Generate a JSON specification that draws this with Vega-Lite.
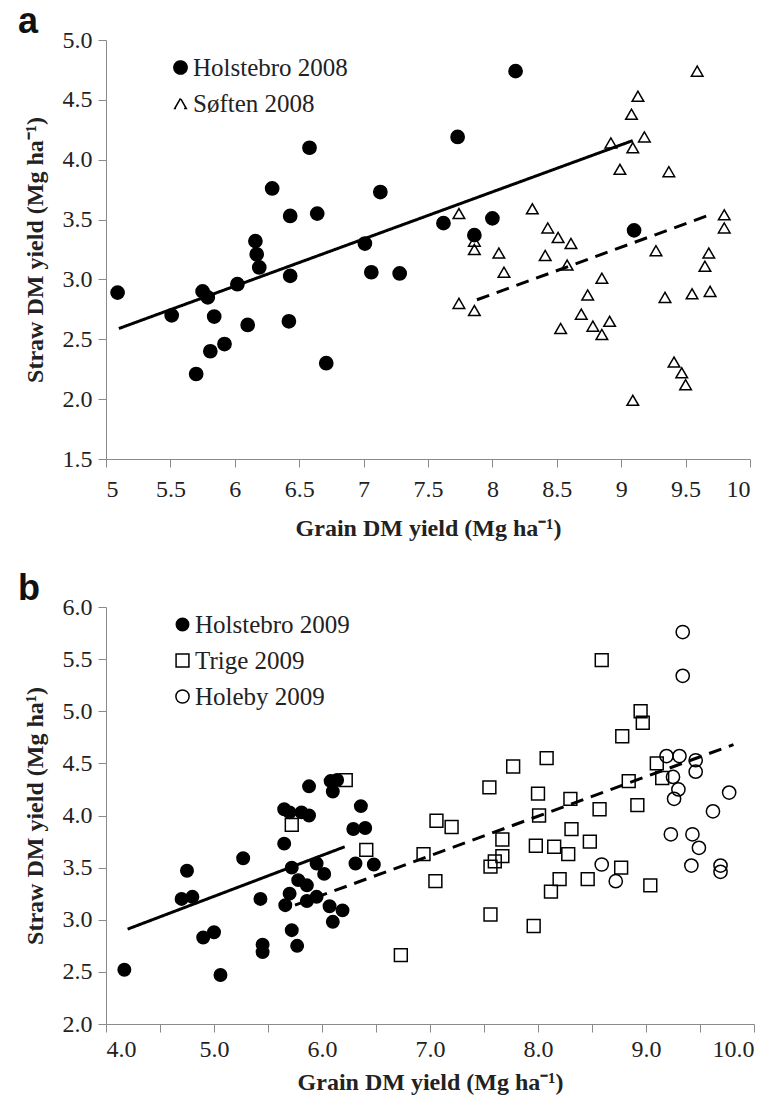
{
  "$schema": "https://vega.github.io/schema/vega-lite/v6.json",
  "background": "white",
  "padding": {"left": 18, "top": 4, "right": 20, "bottom": 2},
  "resolve": {
    "scale": {"shape": "independent", "fill": "independent", "stroke": "independent", "size": "independent", "strokeDash": "independent"},
    "legend": {"shape": "independent", "fill": "independent", "stroke": "independent", "size": "independent", "strokeDash": "independent"}
  },
  "config": {
    "view": {"stroke": null},
    "font": "Liberation Serif, Times New Roman, serif",
    "concat": {"spacing": 31},
    "axis": {
      "grid": false,
      "domainColor": "#8a8a8a",
      "tickColor": "#8a8a8a",
      "tickSize": 8,
      "labelFont": "Liberation Serif, Times New Roman, serif",
      "labelFontSize": 24,
      "labelColor": "#222222",
      "titleFont": "Liberation Serif, Times New Roman, serif",
      "titleFontWeight": "bold",
      "titleFontSize": 24,
      "titleColor": "#222222"
    },
    "axisX": {"labelPadding": 10, "titlePadding": 15},
    "axisY": {"labelPadding": 6, "titlePadding": 15},
    "legend": {
      "orient": "none",
      "padding": 0,
      "labelFont": "Liberation Serif, Times New Roman, serif",
      "labelFontSize": 25,
      "labelColor": "#222222",
      "labelOffset": 0,
      "rowPadding": 10,
      "symbolStrokeWidth": 1.5
    }
  },
  "datasets": {
    "a_points": [
      {"site": "Holstebro 2008", "grain": 5.09, "straw": 2.89},
      {"site": "Holstebro 2008", "grain": 5.51, "straw": 2.70},
      {"site": "Holstebro 2008", "grain": 5.75, "straw": 2.90},
      {"site": "Holstebro 2008", "grain": 5.79, "straw": 2.85},
      {"site": "Holstebro 2008", "grain": 5.84, "straw": 2.69},
      {"site": "Holstebro 2008", "grain": 5.81, "straw": 2.40},
      {"site": "Holstebro 2008", "grain": 5.92, "straw": 2.46},
      {"site": "Holstebro 2008", "grain": 5.70, "straw": 2.21},
      {"site": "Holstebro 2008", "grain": 6.02, "straw": 2.96},
      {"site": "Holstebro 2008", "grain": 6.10, "straw": 2.62},
      {"site": "Holstebro 2008", "grain": 6.16, "straw": 3.32},
      {"site": "Holstebro 2008", "grain": 6.17, "straw": 3.21},
      {"site": "Holstebro 2008", "grain": 6.19, "straw": 3.10},
      {"site": "Holstebro 2008", "grain": 6.29, "straw": 3.76},
      {"site": "Holstebro 2008", "grain": 6.43, "straw": 3.53},
      {"site": "Holstebro 2008", "grain": 6.43, "straw": 3.03},
      {"site": "Holstebro 2008", "grain": 6.42, "straw": 2.65},
      {"site": "Holstebro 2008", "grain": 6.58, "straw": 4.10},
      {"site": "Holstebro 2008", "grain": 6.64, "straw": 3.55},
      {"site": "Holstebro 2008", "grain": 6.71, "straw": 2.30},
      {"site": "Holstebro 2008", "grain": 7.01, "straw": 3.30},
      {"site": "Holstebro 2008", "grain": 7.06, "straw": 3.06},
      {"site": "Holstebro 2008", "grain": 7.13, "straw": 3.73},
      {"site": "Holstebro 2008", "grain": 7.28, "straw": 3.05},
      {"site": "Holstebro 2008", "grain": 7.62, "straw": 3.47},
      {"site": "Holstebro 2008", "grain": 8.18, "straw": 4.74},
      {"site": "Holstebro 2008", "grain": 7.73, "straw": 4.19},
      {"site": "Holstebro 2008", "grain": 8.00, "straw": 3.51},
      {"site": "Holstebro 2008", "grain": 7.86, "straw": 3.37},
      {"site": "Holstebro 2008", "grain": 9.10, "straw": 3.41},
      {"site": "Søften 2008", "grain": 9.59, "straw": 4.74},
      {"site": "Søften 2008", "grain": 9.13, "straw": 4.53},
      {"site": "Søften 2008", "grain": 9.08, "straw": 4.38},
      {"site": "Søften 2008", "grain": 9.18, "straw": 4.19},
      {"site": "Søften 2008", "grain": 8.92, "straw": 4.14},
      {"site": "Søften 2008", "grain": 9.09, "straw": 4.10},
      {"site": "Søften 2008", "grain": 8.99, "straw": 3.92},
      {"site": "Søften 2008", "grain": 9.37, "straw": 3.90},
      {"site": "Søften 2008", "grain": 7.74, "straw": 3.55},
      {"site": "Søften 2008", "grain": 8.31, "straw": 3.59},
      {"site": "Søften 2008", "grain": 8.43, "straw": 3.43},
      {"site": "Søften 2008", "grain": 8.51, "straw": 3.35},
      {"site": "Søften 2008", "grain": 8.61, "straw": 3.30},
      {"site": "Søften 2008", "grain": 9.80, "straw": 3.54},
      {"site": "Søften 2008", "grain": 9.80, "straw": 3.43},
      {"site": "Søften 2008", "grain": 7.86, "straw": 3.32},
      {"site": "Søften 2008", "grain": 7.86, "straw": 3.25},
      {"site": "Søften 2008", "grain": 8.05, "straw": 3.22},
      {"site": "Søften 2008", "grain": 8.41, "straw": 3.20},
      {"site": "Søften 2008", "grain": 9.27, "straw": 3.24},
      {"site": "Søften 2008", "grain": 9.68, "straw": 3.22},
      {"site": "Søften 2008", "grain": 9.65, "straw": 3.11},
      {"site": "Søften 2008", "grain": 8.09, "straw": 3.06},
      {"site": "Søften 2008", "grain": 8.58, "straw": 3.12},
      {"site": "Søften 2008", "grain": 8.85, "straw": 3.01},
      {"site": "Søften 2008", "grain": 8.74, "straw": 2.87},
      {"site": "Søften 2008", "grain": 9.34, "straw": 2.85},
      {"site": "Søften 2008", "grain": 9.55, "straw": 2.88},
      {"site": "Søften 2008", "grain": 9.69, "straw": 2.90},
      {"site": "Søften 2008", "grain": 7.74, "straw": 2.80},
      {"site": "Søften 2008", "grain": 7.86, "straw": 2.74},
      {"site": "Søften 2008", "grain": 8.69, "straw": 2.71},
      {"site": "Søften 2008", "grain": 8.91, "straw": 2.65},
      {"site": "Søften 2008", "grain": 8.78, "straw": 2.61},
      {"site": "Søften 2008", "grain": 8.85, "straw": 2.54},
      {"site": "Søften 2008", "grain": 8.53, "straw": 2.59},
      {"site": "Søften 2008", "grain": 9.41, "straw": 2.31},
      {"site": "Søften 2008", "grain": 9.47, "straw": 2.22},
      {"site": "Søften 2008", "grain": 9.50, "straw": 2.12},
      {"site": "Søften 2008", "grain": 9.09, "straw": 1.99}
    ],
    "a_fits": [
      {"fit": "Holstebro 2008", "grain": 5.10, "straw": 2.59},
      {"fit": "Holstebro 2008", "grain": 9.09, "straw": 4.16},
      {"fit": "Søften 2008", "grain": 7.88, "straw": 2.83},
      {"fit": "Søften 2008", "grain": 9.69, "straw": 3.54}
    ],
    "b_points": [
      {"site": "Holstebro 2009", "grain": 4.17, "straw": 2.52},
      {"site": "Holstebro 2009", "grain": 4.75, "straw": 3.47},
      {"site": "Holstebro 2009", "grain": 4.70, "straw": 3.20},
      {"site": "Holstebro 2009", "grain": 4.80, "straw": 3.22},
      {"site": "Holstebro 2009", "grain": 4.90, "straw": 2.83},
      {"site": "Holstebro 2009", "grain": 5.00, "straw": 2.88},
      {"site": "Holstebro 2009", "grain": 5.06, "straw": 2.47},
      {"site": "Holstebro 2009", "grain": 5.27, "straw": 3.59},
      {"site": "Holstebro 2009", "grain": 5.43, "straw": 3.20},
      {"site": "Holstebro 2009", "grain": 5.45, "straw": 2.76},
      {"site": "Holstebro 2009", "grain": 5.45, "straw": 2.69},
      {"site": "Holstebro 2009", "grain": 5.65, "straw": 4.06},
      {"site": "Holstebro 2009", "grain": 5.70, "straw": 4.03},
      {"site": "Holstebro 2009", "grain": 5.65, "straw": 3.73},
      {"site": "Holstebro 2009", "grain": 5.72, "straw": 3.50},
      {"site": "Holstebro 2009", "grain": 5.70, "straw": 3.25},
      {"site": "Holstebro 2009", "grain": 5.66, "straw": 3.14},
      {"site": "Holstebro 2009", "grain": 5.72, "straw": 2.90},
      {"site": "Holstebro 2009", "grain": 5.77, "straw": 2.75},
      {"site": "Holstebro 2009", "grain": 5.78, "straw": 3.38},
      {"site": "Holstebro 2009", "grain": 5.86, "straw": 3.33},
      {"site": "Holstebro 2009", "grain": 5.81, "straw": 4.03},
      {"site": "Holstebro 2009", "grain": 5.88, "straw": 4.00},
      {"site": "Holstebro 2009", "grain": 5.88, "straw": 4.28},
      {"site": "Holstebro 2009", "grain": 5.86, "straw": 3.18},
      {"site": "Holstebro 2009", "grain": 5.95, "straw": 3.22},
      {"site": "Holstebro 2009", "grain": 5.95, "straw": 3.54},
      {"site": "Holstebro 2009", "grain": 6.02, "straw": 3.44},
      {"site": "Holstebro 2009", "grain": 6.07, "straw": 3.13},
      {"site": "Holstebro 2009", "grain": 6.10, "straw": 2.98},
      {"site": "Holstebro 2009", "grain": 6.08, "straw": 4.33},
      {"site": "Holstebro 2009", "grain": 6.10, "straw": 4.23},
      {"site": "Holstebro 2009", "grain": 6.14, "straw": 4.34},
      {"site": "Holstebro 2009", "grain": 6.19, "straw": 3.09},
      {"site": "Holstebro 2009", "grain": 6.36, "straw": 4.09},
      {"site": "Holstebro 2009", "grain": 6.29, "straw": 3.87},
      {"site": "Holstebro 2009", "grain": 6.40, "straw": 3.88},
      {"site": "Holstebro 2009", "grain": 6.31, "straw": 3.54},
      {"site": "Holstebro 2009", "grain": 6.48, "straw": 3.53},
      {"site": "Trige 2009", "grain": 6.22, "straw": 4.34},
      {"site": "Trige 2009", "grain": 5.72, "straw": 3.91},
      {"site": "Trige 2009", "grain": 6.41, "straw": 3.67},
      {"site": "Trige 2009", "grain": 8.59, "straw": 5.49},
      {"site": "Trige 2009", "grain": 8.95, "straw": 5.00},
      {"site": "Trige 2009", "grain": 8.97, "straw": 4.89},
      {"site": "Trige 2009", "grain": 8.78, "straw": 4.76},
      {"site": "Trige 2009", "grain": 8.08, "straw": 4.55},
      {"site": "Trige 2009", "grain": 7.77, "straw": 4.47},
      {"site": "Trige 2009", "grain": 9.10, "straw": 4.50},
      {"site": "Trige 2009", "grain": 9.15, "straw": 4.36},
      {"site": "Trige 2009", "grain": 8.84, "straw": 4.33},
      {"site": "Trige 2009", "grain": 7.55, "straw": 4.27},
      {"site": "Trige 2009", "grain": 8.00, "straw": 4.21},
      {"site": "Trige 2009", "grain": 8.30, "straw": 4.16},
      {"site": "Trige 2009", "grain": 8.57, "straw": 4.06},
      {"site": "Trige 2009", "grain": 8.92, "straw": 4.10},
      {"site": "Trige 2009", "grain": 8.01, "straw": 4.00},
      {"site": "Trige 2009", "grain": 7.06, "straw": 3.95},
      {"site": "Trige 2009", "grain": 7.20, "straw": 3.89},
      {"site": "Trige 2009", "grain": 8.31, "straw": 3.87},
      {"site": "Trige 2009", "grain": 7.67, "straw": 3.77},
      {"site": "Trige 2009", "grain": 8.48, "straw": 3.75},
      {"site": "Trige 2009", "grain": 7.98, "straw": 3.71},
      {"site": "Trige 2009", "grain": 8.15, "straw": 3.70},
      {"site": "Trige 2009", "grain": 8.28, "straw": 3.63},
      {"site": "Trige 2009", "grain": 6.94, "straw": 3.63},
      {"site": "Trige 2009", "grain": 7.67, "straw": 3.61},
      {"site": "Trige 2009", "grain": 7.60, "straw": 3.56},
      {"site": "Trige 2009", "grain": 7.56, "straw": 3.51},
      {"site": "Trige 2009", "grain": 8.77, "straw": 3.50},
      {"site": "Trige 2009", "grain": 7.05, "straw": 3.37},
      {"site": "Trige 2009", "grain": 8.20, "straw": 3.39},
      {"site": "Trige 2009", "grain": 8.46, "straw": 3.39},
      {"site": "Trige 2009", "grain": 8.12, "straw": 3.27},
      {"site": "Trige 2009", "grain": 9.04, "straw": 3.33},
      {"site": "Trige 2009", "grain": 7.56, "straw": 3.05},
      {"site": "Trige 2009", "grain": 7.96, "straw": 2.94},
      {"site": "Trige 2009", "grain": 6.73, "straw": 2.66},
      {"site": "Holeby 2009", "grain": 9.34, "straw": 5.76},
      {"site": "Holeby 2009", "grain": 9.34, "straw": 5.34},
      {"site": "Holeby 2009", "grain": 9.19, "straw": 4.57},
      {"site": "Holeby 2009", "grain": 9.31, "straw": 4.57},
      {"site": "Holeby 2009", "grain": 9.46, "straw": 4.53},
      {"site": "Holeby 2009", "grain": 9.46, "straw": 4.42},
      {"site": "Holeby 2009", "grain": 9.25, "straw": 4.37},
      {"site": "Holeby 2009", "grain": 9.30, "straw": 4.25},
      {"site": "Holeby 2009", "grain": 9.26, "straw": 4.16},
      {"site": "Holeby 2009", "grain": 9.77, "straw": 4.22},
      {"site": "Holeby 2009", "grain": 9.62, "straw": 4.04},
      {"site": "Holeby 2009", "grain": 9.23, "straw": 3.82},
      {"site": "Holeby 2009", "grain": 9.43, "straw": 3.82},
      {"site": "Holeby 2009", "grain": 9.49, "straw": 3.69},
      {"site": "Holeby 2009", "grain": 8.59, "straw": 3.53},
      {"site": "Holeby 2009", "grain": 9.42, "straw": 3.52},
      {"site": "Holeby 2009", "grain": 9.69, "straw": 3.52},
      {"site": "Holeby 2009", "grain": 9.69, "straw": 3.46},
      {"site": "Holeby 2009", "grain": 8.72, "straw": 3.37}
    ],
    "b_fits": [
      {"fit": "Holstebro 2009", "grain": 4.20, "straw": 2.91},
      {"fit": "Holstebro 2009", "grain": 6.21, "straw": 3.70},
      {"fit": "Trige and Holeby 2009", "grain": 5.75, "straw": 3.14},
      {"fit": "Trige and Holeby 2009", "grain": 9.81, "straw": 4.68}
    ]
  },
  "vconcat": [
    {
      "width": 644,
      "height": 419,
      "title": {"text": "a", "anchor": "start", "frame": "group", "font": "Liberation Sans", "fontSize": 36, "fontWeight": "bold", "color": "#111111", "dx": -88, "offset": -13},
      "layer": [
        {
          "data": {"name": "a_points"},
          "mark": {"type": "point", "strokeWidth": 1.5, "opacity": 1},
          "encoding": {
            "x": {"field": "grain", "type": "quantitative", "scale": {"domain": [5, 10], "nice": false, "zero": false},
                  "axis": {"title": "Grain DM yield (Mg ha⁻¹)", "values": [5, 5.5, 6, 6.5, 7, 7.5, 8, 8.5, 9, 9.5, 10], "format": "~g"}},
            "y": {"field": "straw", "type": "quantitative", "scale": {"domain": [1.5, 5], "nice": false, "zero": false},
                  "axis": {"title": "Straw DM yield (Mg ha⁻¹)", "values": [1.5, 2, 2.5, 3, 3.5, 4, 4.5, 5], "format": ".1f"}},
            "shape": {"field": "site", "type": "nominal", "title": null, "scale": {"domain": ["Holstebro 2008", "Søften 2008"], "range": ["circle", "triangle-up"]},
                      "legend": {"orient": "none", "legendX": 62, "legendY": 15}},
            "fill": {"field": "site", "type": "nominal", "title": null, "scale": {"domain": ["Holstebro 2008", "Søften 2008"], "range": ["black", "transparent"]},
                     "legend": {"orient": "none", "legendX": 62, "legendY": 15}},
            "stroke": {"field": "site", "type": "nominal", "title": null, "scale": {"domain": ["Holstebro 2008", "Søften 2008"], "range": ["black", "black"]},
                     "legend": {"orient": "none", "legendX": 62, "legendY": 15}},
            "size": {"field": "site", "type": "nominal", "title": null, "scale": {"domain": ["Holstebro 2008", "Søften 2008"], "range": [175, 135]},
                     "legend": {"orient": "none", "legendX": 62, "legendY": 15}}
          }
        },
        {
          "data": {"name": "a_fits"},
          "mark": {"type": "line", "color": "black", "strokeWidth": 3},
          "encoding": {
            "x": {"field": "grain", "type": "quantitative"},
            "y": {"field": "straw", "type": "quantitative"},
            "detail": {"field": "fit", "type": "nominal"},
            "strokeDash": {"field": "fit", "type": "nominal", "scale": {"domain": ["Holstebro 2008", "Søften 2008"], "range": [[1, 0], [13, 8]]}, "legend": null}
          }
        }
      ]
    },
    {
      "width": 648,
      "height": 417,
      "title": {"text": "b", "anchor": "start", "frame": "group", "font": "Liberation Sans", "fontSize": 36, "fontWeight": "bold", "color": "#111111", "dx": -88, "offset": -13},
      "layer": [
        {
          "data": {"name": "b_points"},
          "mark": {"type": "point", "strokeWidth": 1.5, "opacity": 1},
          "encoding": {
            "x": {"field": "grain", "type": "quantitative", "scale": {"domain": [4, 10], "nice": false, "zero": false},
                  "axis": {"title": "Grain DM yield (Mg ha⁻¹)", "values": [4, 4.5, 5, 5.5, 6, 6.5, 7, 7.5, 8, 8.5, 9, 9.5, 10], "format": ".1f", "labelPadding": 5, "titlePadding": 9}},
            "y": {"field": "straw", "type": "quantitative", "scale": {"domain": [2, 6], "nice": false, "zero": false},
                  "axis": {"title": "Straw DM yield (Mg ha¹)", "values": [2, 2.5, 3, 3.5, 4, 4.5, 5, 5.5, 6], "format": ".1f"}},
            "shape": {"field": "site", "type": "nominal", "title": null, "scale": {"domain": ["Holstebro 2009", "Trige 2009", "Holeby 2009"], "range": ["circle", "square", "circle"]},
                      "legend": {"orient": "none", "legendX": 64, "legendY": 5}},
            "fill": {"field": "site", "type": "nominal", "title": null, "scale": {"domain": ["Holstebro 2009", "Trige 2009", "Holeby 2009"], "range": ["black", "transparent", "transparent"]},
                     "legend": {"orient": "none", "legendX": 64, "legendY": 5}},
            "stroke": {"field": "site", "type": "nominal", "title": null, "scale": {"domain": ["Holstebro 2009", "Trige 2009", "Holeby 2009"], "range": ["black", "black", "black"]},
                     "legend": {"orient": "none", "legendX": 64, "legendY": 5}},
            "size": {"field": "site", "type": "nominal", "title": null, "scale": {"domain": ["Holstebro 2009", "Trige 2009", "Holeby 2009"], "range": [155, 175, 130]},
                     "legend": {"orient": "none", "legendX": 64, "legendY": 5}}
          }
        },
        {
          "data": {"name": "b_fits"},
          "mark": {"type": "line", "color": "black", "strokeWidth": 3},
          "encoding": {
            "x": {"field": "grain", "type": "quantitative"},
            "y": {"field": "straw", "type": "quantitative"},
            "detail": {"field": "fit", "type": "nominal"},
            "strokeDash": {"field": "fit", "type": "nominal", "scale": {"domain": ["Holstebro 2009", "Trige and Holeby 2009"], "range": [[1, 0], [13, 8]]}, "legend": null}
          }
        }
      ]
    }
  ]
}
